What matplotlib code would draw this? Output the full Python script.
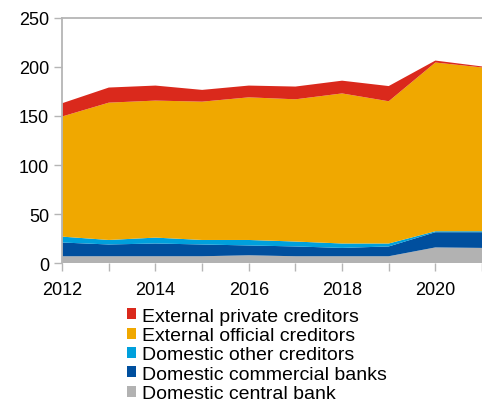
import matplotlib.pyplot as plt
import numpy as np

plt.rcParams['font.family'] = ['Liberation Sans', 'DejaVu Sans']

years = np.arange(2012, 2022)
central_bank = [7, 7, 7, 7, 8, 7, 7, 7, 16, 15.5]
commercial_banks = [14, 12, 13, 12, 10, 10, 8.5, 10, 15.5, 16]
other_domestic = [6, 4.6, 6, 4.6, 5.6, 5, 4.5, 3, 1, 1]
external_official = [122.5, 140, 139.7, 141, 145.4, 145, 153, 145, 172, 167]
external_private = [13.5, 15.4, 15.3, 12, 12, 13, 13, 15.5, 2, 1]

labels = ["Domestic central bank", "Domestic commercial banks", "Domestic other creditors",
          "External official creditors", "External private creditors"]
colors = ["#b2b2b2", "#004f9e", "#00a0dc", "#f0a800", "#da291c"]

fig = plt.figure(figsize=(4.82, 4.02), dpi=100)
ax = fig.add_axes([0.129, 0.343, 0.871, 0.61])

ax.stackplot(years, central_bank, commercial_banks, other_domestic,
             external_official, external_private, colors=colors, labels=labels, lw=0)

ax.set_xlim(2012, 2021)
ax.set_ylim(0, 250)
ax.set_yticks([0, 50, 100, 150, 200, 250])
ax.set_xticks(years)
ax.set_xticklabels([str(y) if y % 2 == 0 else "" for y in years])

for s in ["right", "bottom"]:
    ax.spines[s].set_visible(False)
for s in ["left", "top"]:
    ax.spines[s].set_color("#b5b5b5")
    ax.spines[s].set_linewidth(1.3)
ax.tick_params(axis="both", colors="#b5b5b5", labelcolor="black", labelsize=13, length=6, width=1)
ax.tick_params(axis="x", pad=7)

h, l = ax.get_legend_handles_labels()
leg = fig.legend(h[::-1], l[::-1], loc="upper left", bbox_to_anchor=(0.263, 0.232),
                 frameon=False, fontsize=14, handlelength=0.5, handleheight=0.5,
                 handletextpad=0.26, labelspacing=0.12, borderaxespad=0, borderpad=0)

plt.savefig("out.png", dpi=100)
